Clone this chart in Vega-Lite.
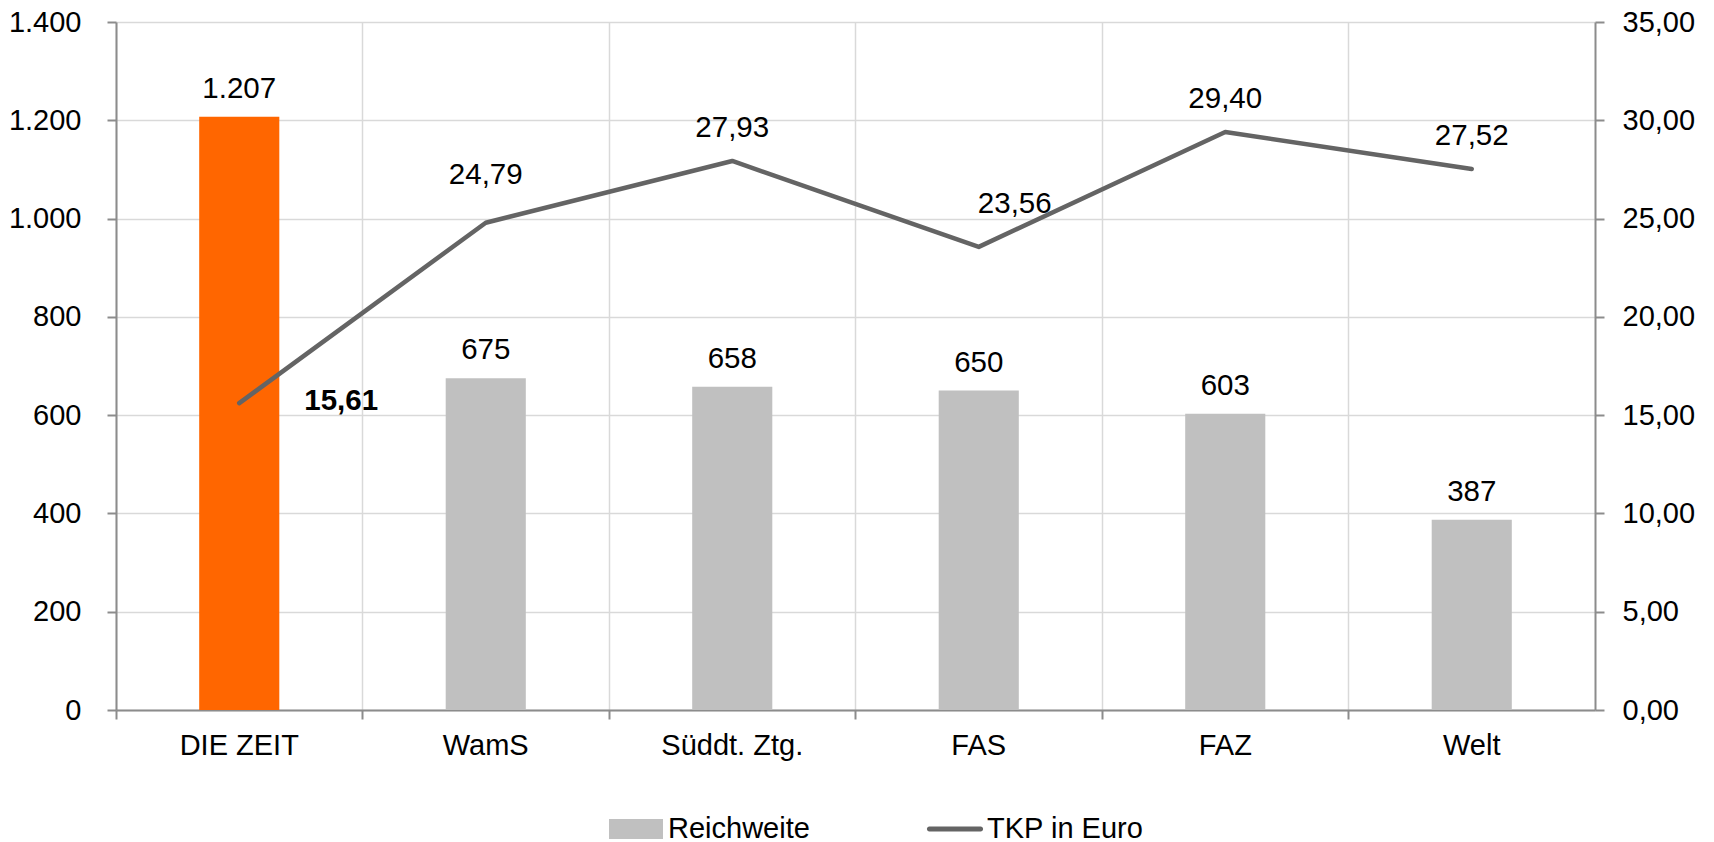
{
  "$schema": "https://vega.github.io/schema/vega-lite/v6.json",
  "width": 1479,
  "height": 688,
  "autosize": {"type": "pad"},
  "padding": {"left": 8, "top": 8, "right": 0, "bottom": 0},
  "background": "#ffffff",
  "config": {
    "locale": {"number": {"decimal": ",", "thousands": ".", "grouping": [3], "currency": ["", " €"]}},
    "view": {"stroke": null},
    "font": "Liberation Sans",
    "axis": {
      "labelFont": "Liberation Sans",
      "labelFontSize": 29,
      "labelColor": "#000000",
      "domainColor": "#8C8C8C",
      "domainWidth": 2,
      "tickColor": "#8C8C8C",
      "tickWidth": 2,
      "tickSize": 9,
      "gridColor": "#D9D9D9",
      "gridWidth": 1.5,
      "title": null
    },
    "text": {"font": "Liberation Sans", "fontSize": 29.5, "color": "#000000"}
  },
  "data": {
    "values": [
      {"Zeitung": "DIE ZEIT", "Reichweite": 1207, "TKP": 15.61},
      {"Zeitung": "WamS", "Reichweite": 675, "TKP": 24.79},
      {"Zeitung": "Süddt. Ztg.", "Reichweite": 658, "TKP": 27.93},
      {"Zeitung": "FAS", "Reichweite": 650, "TKP": 23.56},
      {"Zeitung": "FAZ", "Reichweite": 603, "TKP": 29.40},
      {"Zeitung": "Welt", "Reichweite": 387, "TKP": 27.52}
    ]
  },
  "layer": [
    {
      "layer": [
        {
          "mark": {"type": "bar", "width": {"band": 0.325}},
          "encoding": {
            "x": {
              "field": "Zeitung", "type": "nominal", "sort": null,
              "scale": {"paddingInner": 0, "paddingOuter": 0},
              "axis": {"labelAngle": 0, "bandPosition": 0, "grid": true, "labelPadding": 12, "domainColor": "#8C8C8C"}
            },
            "y": {
              "field": "Reichweite", "type": "quantitative",
              "scale": {"domain": [0, 1400], "nice": false},
              "axis": {"orient": "left", "values": [0, 200, 400, 600, 800, 1000, 1200, 1400], "format": ",d", "grid": true, "labelPadding": 26}
            },
            "color": {
              "condition": {"test": "datum.Zeitung === 'DIE ZEIT'", "value": "#FF6600"},
              "datum": "Reichweite",
              "type": "nominal",
              "scale": {"domain": ["Reichweite", "TKP in Euro"], "range": ["#C0C0C0", "#646464"]},
              "legend": {
                "orient": "none",
                "legendX": 493,
                "legendY": 780,
                "direction": "horizontal",
                "title": null,
                "padding": 0,
                "symbolSize": 2916,
                "labelFont": "Liberation Sans",
                "labelFontSize": 29,
                "labelColor": "#000000",
                "labelOffset": 5,
                "columnPadding": 116,
                "labelLimit": 300,
                "encode": {
                  "symbols": {
                    "update": {
                      "shape": {"signal": "datum.value === 'Reichweite' ? 'M-1,-0.37H1V0.37H-1Z' : 'M-0.95,-0.09H0.95A0.09,0.09 0 0 1 0.95,0.09H-0.95A0.09,0.09 0 0 1 -0.95,-0.09Z'"},
                      "fill": {"signal": "datum.value === 'Reichweite' ? '#C0C0C0' : '#646464'"},
                      "stroke": {"value": "transparent"},
                      "strokeWidth": {"value": 0},
                      "opacity": {"value": 1},
                      "fillOpacity": {"value": 1}
                    }
                  }
                }
              }
            }
          }
        },
        {
          "mark": {"type": "text", "dy": -19, "baseline": "alphabetic", "align": "center"},
          "encoding": {
            "x": {"field": "Zeitung", "type": "nominal", "sort": null},
            "y": {"field": "Reichweite", "type": "quantitative", "scale": {"domain": [0, 1400], "nice": false}},
            "text": {"field": "Reichweite", "type": "quantitative", "format": ",d"}
          }
        }
      ]
    },
    {
      "layer": [
        {
          "mark": {"type": "line", "strokeWidth": 4.5, "strokeCap": "round", "strokeJoin": "round"},
          "encoding": {
            "x": {"field": "Zeitung", "type": "nominal", "sort": null},
            "y": {
              "field": "TKP", "type": "quantitative",
              "scale": {"domain": [0, 35], "nice": false},
              "axis": {"orient": "right", "values": [0, 5, 10, 15, 20, 25, 30, 35], "format": ",.2f", "grid": false, "labelPadding": 18}
            },
            "color": {"datum": "TKP in Euro", "type": "nominal"}
          }
        },
        {
          "transform": [{"filter": "datum.Zeitung === 'Süddt. Ztg.' || datum.Zeitung === 'FAZ' || datum.Zeitung === 'Welt'"}],
          "mark": {"type": "text", "dy": -24, "baseline": "alphabetic", "align": "center"},
          "encoding": {
            "x": {"field": "Zeitung", "type": "nominal", "sort": null},
            "y": {"field": "TKP", "type": "quantitative", "scale": {"domain": [0, 35], "nice": false}},
            "text": {"field": "TKP", "type": "quantitative", "format": ",.2f"}
          }
        },
        {
          "transform": [{"filter": "datum.Zeitung === 'WamS'"}],
          "mark": {"type": "text", "dy": -39, "baseline": "alphabetic", "align": "center"},
          "encoding": {
            "x": {"field": "Zeitung", "type": "nominal", "sort": null},
            "y": {"field": "TKP", "type": "quantitative", "scale": {"domain": [0, 35], "nice": false}},
            "text": {"field": "TKP", "type": "quantitative", "format": ",.2f"}
          }
        },
        {
          "transform": [{"filter": "datum.Zeitung === 'FAS'"}],
          "mark": {"type": "text", "dx": 36, "dy": -34, "baseline": "alphabetic", "align": "center"},
          "encoding": {
            "x": {"field": "Zeitung", "type": "nominal", "sort": null},
            "y": {"field": "TKP", "type": "quantitative", "scale": {"domain": [0, 35], "nice": false}},
            "text": {"field": "TKP", "type": "quantitative", "format": ",.2f"}
          }
        },
        {
          "transform": [{"filter": "datum.Zeitung === 'DIE ZEIT'"}],
          "mark": {"type": "text", "dx": 65, "dy": 7, "baseline": "alphabetic", "align": "left", "fontWeight": "bold"},
          "encoding": {
            "x": {"field": "Zeitung", "type": "nominal", "sort": null},
            "y": {"field": "TKP", "type": "quantitative", "scale": {"domain": [0, 35], "nice": false}},
            "text": {"field": "TKP", "type": "quantitative", "format": ",.2f"}
          }
        }
      ]
    }
  ],
  "resolve": {"scale": {"y": "independent"}}
}
